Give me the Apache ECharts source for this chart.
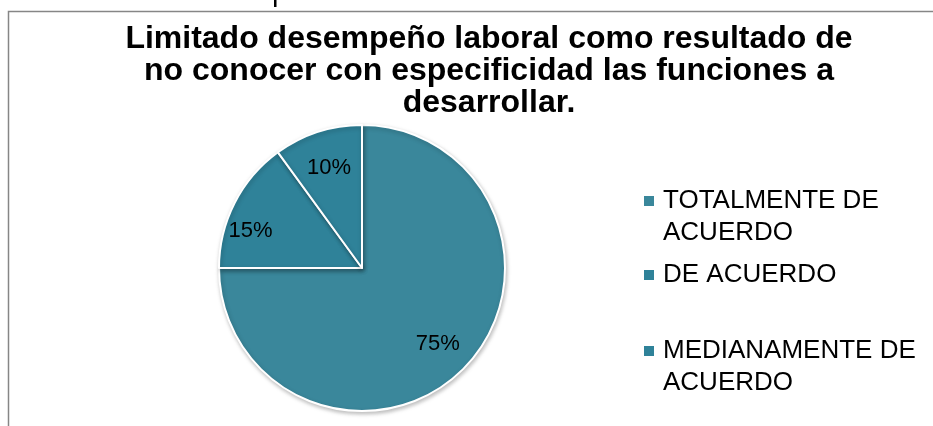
<!DOCTYPE html>
<html>
<head>
<meta charset="utf-8">
<script src="https://cdn.jsdelivr.net/npm/echarts@6/dist/echarts.min.js"></script>
<style>html,body{margin:0;padding:0;background:#fff;}#c{width:933px;height:426px;}</style>
</head>
<body>
<div id="c"></div>
<script>
const titleText = 'Limitado desempeño laboral como resultado de\nno conocer con especificidad las funciones a\ndesarrollar.';
const categories = ['TOTALMENTE DE\nACUERDO', 'DE ACUERDO', 'MEDIANAMENTE DE\nACUERDO'];
const values = [75, 15, 10];
const colors = ['#3A879B', '#2F8299', '#2F8299'];

// layout helpers (styling only)
const legendTops = [185, 259, 335];
const labelOffsets = [[23, 23], [-45, -3], [-10, -29]];

const chart = echarts.init(document.getElementById('c'));
const legends = categories.map((name, i) => {
  const twoLine = name.indexOf('\n') >= 0;
  return {
    data: [name],
    orient: 'vertical',
    left: 644,
    top: legendTops[i],
    padding: 0,
    icon: twoLine ? 'path://M0,0L10,0L10,10L0,10Z M0,42L10,42L10,42L0,42Z' : 'rect',
    itemWidth: 10,
    itemHeight: twoLine ? 42 : 10,
    itemGap: 0,
    itemStyle: {borderWidth: 0, borderColor: 'transparent', shadowBlur: 0, shadowOffsetX: 0, shadowOffsetY: 0},
    selectedMode: false,
    textStyle: {fontFamily: 'Liberation Sans', fontSize: 26, color: '#000', lineHeight: 32, padding: [0, 0, 0, 4]}
  };
});
chart.setOption({
  animation: false,
  title: {
    text: titleText,
    left: 489, top: 23, textAlign: 'center', padding: 0,
    textStyle: {fontFamily: 'Liberation Sans', fontWeight: 'bold', fontSize: 32, lineHeight: 32, color: '#000'}
  },
  legend: legends,
  graphic: [
    {type: 'rect', shape: {x: 8.5, y: 11.5, width: 1000, height: 500}, style: {fill: 'none', stroke: '#868686', lineWidth: 1.5}, silent: true},
    {type: 'rect', shape: {x: 274, y: 0, width: 2.5, height: 7}, style: {fill: '#000'}, silent: true}
  ],
  series: [{
    type: 'pie',
    center: [362, 268],
    radius: [0, 143],
    startAngle: 90,
    clockwise: true,
    data: categories.map((n, i) => ({
      name: n, value: values[i],
      itemStyle: {color: colors[i]},
      label: {offset: labelOffsets[i]}
    })),
    itemStyle: {borderColor: '#fff', borderWidth: 2, shadowBlur: 4, shadowColor: 'rgba(0,0,0,0.25)', shadowOffsetX: 1, shadowOffsetY: 2},
    label: {
      position: 'inner',
      formatter: p => p.value + '%',
      fontFamily: 'Liberation Sans', fontSize: 22, color: '#000'
    },
    labelLine: {show: false}
  }]
});
</script>
</body>
</html>
